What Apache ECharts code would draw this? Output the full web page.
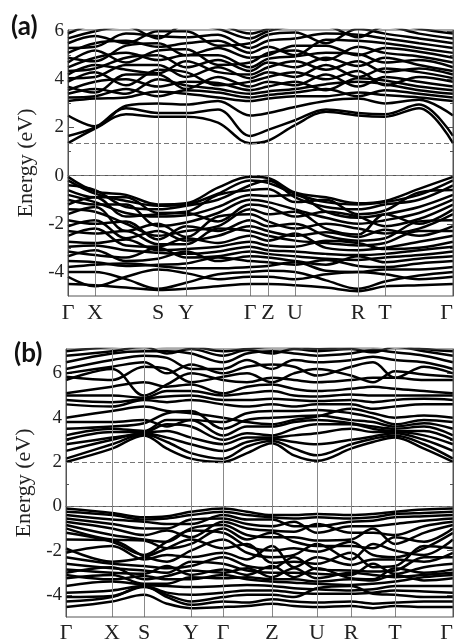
<!DOCTYPE html>
<html><head><meta charset="utf-8">
<script src="https://cdn.jsdelivr.net/npm/echarts@6/dist/echarts.min.js"></script>
<style>html,body{margin:0;padding:0;background:#fff}#c{width:456px;height:644px}</style>
</head><body><div id="c"></div>
<script>
// ---------- Panel (a) ----------
// k-path nodes: Γ X mXS S Y mYΓ Γ Z U mUR R T mTΓ Γ
const kA = [0, 27, 58, 90, 118, 150, 182, 200, 227, 258, 290, 317, 351, 385];
const symTicksA = [0, 27, 90, 118, 182, 200, 227, 290, 317, 385];
const symLabelsA = ['Γ','X','S','Y','Γ','Z','U','R','T','Γ'];
const refLinesA = [0, 1.35];
const yRangeA = [-5, 6.05];
const condA = [
  [1.35, 1.95, 2.55, 2.45, 2.45, 2.2, 1.35, 1.45, 2.1, 2.65, 2.5, 2.45, 2.8, 1.35],
  [1.65, 2.0, 2.8, 2.6, 2.6, 2.75, 1.65, 1.9, 2.3, 2.75, 2.6, 2.55, 2.95, 1.65],
  [2.5, 2.05, 2.9, 3.0, 2.95, 3.1, 2.5, 2.6, 2.85, 3.1, 3.2, 3.0, 3.15, 2.5],
  [3.1, 3.2, 3.25, 3.5, 3.4, 3.25, 3.1, 3.2, 3.3, 3.3, 3.45, 3.35, 3.25, 3.1],
  [3.25, 3.3, 3.6, 3.3, 3.55, 3.45, 3.25, 3.35, 3.45, 3.6, 3.3, 3.55, 3.4, 3.25],
  [3.4, 3.6, 3.4, 4.0, 3.75, 3.6, 3.4, 3.5, 3.6, 3.8, 3.9, 3.8, 3.55, 3.4],
  [3.55, 3.9, 4.0, 3.7, 3.9, 3.85, 3.55, 3.7, 3.9, 3.55, 4.05, 3.95, 3.7, 3.55],
  [3.7, 3.45, 4.2, 4.2, 3.6, 4.1, 3.7, 3.9, 3.75, 4.2, 3.7, 4.1, 3.9, 3.7],
  [3.9, 4.3, 3.75, 4.4, 4.3, 3.75, 3.9, 4.1, 4.3, 4.0, 4.35, 3.75, 4.1, 3.9],
  [4.05, 4.1, 4.6, 4.6, 4.1, 4.5, 4.05, 4.3, 4.1, 4.6, 4.1, 4.45, 4.3, 4.05],
  [4.2, 4.6, 4.4, 4.25, 4.75, 4.3, 4.2, 4.5, 4.75, 4.4, 4.75, 4.3, 4.45, 4.2],
  [4.35, 4.45, 4.9, 5.0, 4.5, 4.8, 4.35, 4.7, 4.5, 4.9, 4.55, 4.9, 4.6, 4.35],
  [4.5, 4.9, 5.1, 4.8, 5.0, 5.0, 4.5, 4.85, 4.95, 5.1, 5.05, 4.7, 4.8, 4.5],
  [4.7, 5.2, 4.7, 5.2, 5.25, 4.6, 4.7, 5.1, 5.2, 4.8, 5.35, 5.1, 4.95, 4.7],
  [4.9, 4.75, 5.4, 5.5, 5.0, 5.3, 4.9, 5.0, 5.4, 5.4, 5.0, 5.3, 5.15, 4.9],
  [5.1, 5.5, 5.6, 5.35, 5.5, 5.6, 5.1, 5.35, 5.0, 5.65, 5.6, 5.5, 5.3, 5.1],
  [5.3, 5.35, 5.9, 5.8, 5.75, 5.85, 5.3, 5.6, 5.7, 5.9, 5.85, 5.7, 5.5, 5.3],
  [5.5, 5.8, 5.5, 6.0, 6.0, 5.4, 5.5, 5.85, 5.95, 5.5, 6.1, 5.9, 5.7, 5.5],
  [5.7, 6.0, 6.2, 5.7, 6.3, 6.1, 5.7, 6.0, 6.2, 6.2, 5.75, 6.2, 5.9, 5.7],
  [5.9, 6.3, 6.4, 6.3, 6.4, 6.3, 5.9, 6.1, 6.4, 6.4, 6.3, 6.4, 6.1, 5.9]
];
const valA = [
  [-0.05, -0.65, -0.8, -1.2, -1.15, -0.5, -0.05, -0.1, -0.7, -0.9, -1.15, -1.05, -0.55, -0.05],
  [-0.2, -0.75, -1.05, -1.25, -1.2, -0.75, -0.2, -0.3, -0.75, -1.1, -1.2, -1.1, -0.8, -0.2],
  [-0.4, -0.6, -1.3, -1.4, -1.25, -1.0, -0.4, -0.2, -0.9, -1.3, -1.4, -1.2, -1.0, -0.4],
  [-0.6, -0.9, -0.9, -1.55, -1.5, -0.8, -0.6, -0.55, -1.1, -1.0, -1.6, -1.45, -0.7, -0.6],
  [-0.8, -1.1, -1.55, -1.7, -1.65, -1.3, -0.8, -0.85, -0.8, -1.5, -1.75, -1.6, -1.3, -0.8],
  [-1.0, -1.2, -1.2, -2.1, -1.95, -1.55, -1.0, -1.1, -1.4, -1.75, -2.0, -1.85, -1.55, -1.0],
  [-1.2, -0.9, -1.7, -1.6, -1.55, -1.9, -1.2, -1.3, -1.7, -1.5, -1.7, -2.1, -1.8, -1.2],
  [-1.4, -1.5, -2.0, -2.5, -2.3, -2.1, -1.4, -1.6, -1.5, -2.2, -2.45, -1.6, -2.0, -1.4],
  [-1.6, -1.3, -2.3, -2.0, -2.55, -1.7, -1.6, -1.9, -2.2, -2.0, -2.2, -2.4, -2.2, -1.6],
  [-1.85, -2.0, -1.9, -2.65, -2.1, -2.3, -1.85, -2.1, -2.0, -2.5, -2.7, -2.6, -1.9, -1.85],
  [-2.1, -1.85, -2.6, -2.3, -2.7, -2.5, -2.1, -2.3, -2.5, -2.35, -2.55, -2.25, -2.5, -2.1],
  [-2.3, -2.4, -2.3, -2.85, -2.85, -2.2, -2.3, -2.5, -2.7, -2.8, -2.9, -2.8, -2.3, -2.3],
  [-2.5, -2.2, -2.9, -2.95, -2.6, -2.8, -2.5, -2.7, -2.4, -3.0, -3.1, -3.0, -2.75, -2.5],
  [-2.75, -2.8, -2.65, -3.1, -3.05, -2.95, -2.75, -2.9, -2.95, -2.7, -2.8, -3.05, -3.0, -2.75],
  [-2.95, -2.9, -3.1, -3.2, -3.25, -3.15, -2.95, -3.1, -3.15, -3.25, -3.3, -3.25, -3.1, -2.95],
  [-3.15, -3.3, -3.4, -3.0, -3.4, -3.35, -3.15, -3.25, -3.35, -3.45, -3.5, -3.4, -3.3, -3.15],
  [-3.35, -3.1, -3.55, -3.45, -3.15, -3.55, -3.35, -3.4, -3.55, -3.7, -3.35, -3.6, -3.45, -3.35],
  [-3.55, -3.6, -3.75, -3.7, -3.65, -3.4, -3.55, -3.6, -3.7, -3.5, -3.75, -3.8, -3.65, -3.55],
  [-3.8, -3.7, -3.65, -3.75, -3.85, -3.85, -3.8, -3.75, -3.6, -3.95, -4.0, -3.9, -3.9, -3.8],
  [-4.0, -4.0, -4.3, -4.7, -4.45, -4.1, -4.0, -3.95, -4.0, -4.35, -4.7, -4.4, -4.15, -4.0],
  [-4.2, -4.6, -4.2, -3.9, -4.05, -4.3, -4.2, -4.2, -4.3, -4.1, -4.0, -4.1, -4.3, -4.2],
  [-4.5, -4.55, -4.65, -4.75, -4.7, -4.6, -4.5, -4.5, -4.55, -4.65, -4.8, -4.6, -4.55, -4.5]
];

// ---------- Panel (b) ----------
// k-path nodes: Γ X S mSY Y Γ mΓZ Z mZU U R mRT T mTΓ Γ
const kB = [0, 46, 78, 101, 125, 157, 181, 206, 228, 251, 285, 307, 329, 358, 387];
const symTicksB = [0, 46, 78, 125, 157, 206, 251, 285, 329, 387];
const symLabelsB = ['Γ','X','S','Y','Γ','Z','U','R','T','Γ'];
const refLinesB = [0, 2.0];
const yRangeB = [-5, 7.1];
const condB = [
  [2.0, 2.6, 3.2, 2.6, 2.15, 2.0, 2.4, 2.85, 2.3, 2.05, 2.6, 2.9, 3.1, 2.6, 2.0],
  [2.15, 2.8, 3.25, 2.9, 2.4, 2.15, 2.7, 2.95, 2.6, 2.3, 2.8, 3.05, 3.2, 2.8, 2.15],
  [2.5, 3.0, 3.3, 3.1, 2.8, 2.5, 2.9, 3.05, 2.9, 2.8, 3.0, 3.15, 3.3, 3.0, 2.5],
  [2.8, 3.1, 3.3, 3.4, 3.1, 2.8, 3.1, 3.1, 3.2, 3.3, 3.5, 3.35, 3.35, 3.2, 2.8],
  [3.0, 3.35, 3.35, 3.7, 3.6, 3.0, 3.3, 3.2, 3.5, 3.7, 3.7, 3.5, 3.4, 3.4, 3.0],
  [3.2, 3.5, 3.4, 3.9, 3.9, 3.2, 3.6, 3.6, 3.8, 3.9, 3.75, 3.6, 3.5, 3.6, 3.2],
  [3.5, 3.6, 3.75, 4.2, 4.3, 3.5, 3.9, 4.0, 4.05, 4.1, 3.9, 3.8, 3.6, 3.75, 3.5],
  [3.8, 3.8, 3.9, 3.6, 3.9, 3.8, 4.2, 4.3, 4.3, 4.35, 4.2, 4.0, 3.7, 3.9, 3.8],
  [4.0, 4.3, 4.5, 4.3, 4.2, 4.0, 3.8, 3.7, 3.9, 4.05, 4.4, 4.2, 4.0, 4.1, 4.0],
  [4.6, 4.5, 4.8, 4.7, 4.8, 4.6, 4.5, 4.6, 4.5, 4.6, 4.6, 4.4, 4.5, 4.6, 4.6],
  [4.8, 4.7, 4.85, 4.95, 5.0, 4.8, 4.8, 4.85, 4.8, 4.75, 4.8, 4.7, 4.8, 4.85, 4.8],
  [5.0, 5.0, 4.9, 5.2, 5.2, 5.0, 5.1, 5.2, 5.0, 4.95, 5.05, 5.0, 5.0, 5.0, 5.0],
  [5.1, 5.4, 5.6, 5.4, 5.5, 5.1, 5.4, 5.5, 5.3, 5.2, 5.3, 5.4, 5.3, 5.2, 5.1],
  [5.7, 6.2, 5.0, 5.5, 6.0, 5.7, 5.6, 5.8, 5.7, 5.6, 5.7, 5.8, 5.8, 5.7, 5.7],
  [5.85, 5.7, 6.3, 6.2, 5.6, 5.85, 6.0, 5.6, 6.0, 6.2, 5.9, 5.6, 6.1, 5.95, 5.85],
  [6.0, 6.3, 6.5, 6.0, 6.4, 6.0, 6.3, 6.4, 6.3, 5.9, 6.3, 6.5, 5.8, 6.3, 6.0],
  [6.2, 6.6, 6.8, 6.7, 6.2, 6.2, 6.6, 6.2, 6.6, 6.5, 6.6, 6.75, 6.6, 6.5, 6.2],
  [6.5, 6.9, 7.0, 7.0, 6.9, 6.5, 6.9, 7.0, 6.9, 6.8, 6.9, 7.05, 6.95, 6.8, 6.5],
  [6.8, 7.0, 7.2, 6.9, 7.1, 6.8, 7.05, 6.9, 7.1, 7.0, 7.1, 6.95, 7.2, 7.0, 6.8],
  [7.0, 7.2, 7.3, 7.2, 7.2, 7.0, 7.1, 7.2, 7.2, 7.1, 7.2, 7.2, 7.3, 7.1, 7.0]
];
const valB = [
  [-0.1, -0.3, -0.5, -0.45, -0.25, -0.1, -0.25, -0.4, -0.4, -0.35, -0.4, -0.35, -0.25, -0.15, -0.1],
  [-0.25, -0.4, -0.6, -0.55, -0.4, -0.25, -0.4, -0.5, -0.55, -0.5, -0.55, -0.5, -0.35, -0.3, -0.25],
  [-0.4, -0.6, -0.7, -0.8, -0.8, -0.4, -0.6, -0.6, -0.9, -0.9, -0.7, -0.65, -0.5, -0.45, -0.4],
  [-0.55, -0.8, -1.0, -1.0, -0.6, -0.55, -0.8, -0.9, -0.7, -1.2, -0.9, -0.9, -0.8, -0.65, -0.55],
  [-0.7, -1.0, -1.3, -1.1, -1.4, -0.7, -1.0, -1.1, -1.15, -0.8, -1.2, -1.2, -1.3, -0.9, -0.7],
  [-0.85, -1.3, -1.5, -1.6, -1.0, -0.85, -1.3, -1.4, -1.4, -1.55, -1.5, -1.0, -1.7, -1.2, -0.85],
  [-1.0, -1.5, -1.55, -1.9, -1.7, -1.0, -1.5, -1.2, -1.6, -1.8, -1.8, -1.9, -1.4, -1.6, -1.0],
  [-1.2, -1.6, -2.2, -1.6, -1.1, -1.2, -1.8, -2.0, -1.9, -2.05, -1.6, -2.2, -2.3, -1.9, -1.2],
  [-1.5, -1.55, -2.25, -2.5, -2.0, -1.5, -2.1, -2.3, -2.2, -1.7, -2.4, -1.7, -2.0, -2.2, -1.5],
  [-1.9, -2.5, -2.3, -1.9, -1.5, -1.9, -1.7, -2.55, -2.5, -2.6, -2.1, -2.75, -2.7, -1.8, -1.9],
  [-2.1, -1.8, -2.4, -2.2, -2.3, -2.1, -2.4, -1.8, -2.75, -2.3, -2.65, -2.4, -2.4, -2.5, -2.1],
  [-2.3, -2.6, -2.7, -2.8, -2.7, -2.3, -2.7, -2.8, -2.3, -2.85, -2.9, -2.95, -2.9, -2.3, -2.3],
  [-2.6, -2.8, -2.9, -3.0, -2.5, -2.6, -2.9, -3.0, -3.0, -3.05, -3.1, -2.6, -3.05, -2.75, -2.6],
  [-2.85, -3.0, -3.05, -2.7, -3.1, -2.85, -3.1, -2.7, -3.2, -2.8, -3.25, -3.3, -2.8, -3.0, -2.85],
  [-3.0, -2.75, -3.3, -3.15, -2.9, -3.0, -2.8, -3.2, -2.8, -3.25, -3.0, -3.1, -3.2, -3.1, -3.0],
  [-3.1, -3.3, -3.15, -3.3, -3.3, -3.1, -3.3, -3.4, -3.45, -3.5, -3.55, -3.5, -3.4, -3.2, -3.1],
  [-3.25, -3.1, -3.5, -3.5, -3.2, -3.25, -3.2, -3.3, -3.3, -3.4, -3.3, -3.35, -3.1, -3.35, -3.25],
  [-3.6, -3.4, -3.55, -3.6, -3.65, -3.6, -3.55, -3.6, -3.7, -3.75, -3.8, -3.75, -3.6, -3.6, -3.6],
  [-3.9, -3.8, -3.6, -3.9, -4.0, -3.9, -3.8, -3.8, -3.9, -3.95, -3.95, -3.9, -3.8, -3.85, -3.9],
  [-4.1, -4.05, -3.65, -4.0, -4.3, -4.1, -4.0, -4.0, -4.1, -3.7, -3.6, -3.95, -4.0, -4.1, -4.1],
  [-4.3, -4.1, -3.6, -4.1, -4.45, -4.3, -4.35, -4.2, -4.3, -4.35, -4.3, -4.4, -4.35, -4.3, -4.3],
  [-4.55, -4.3, -4.0, -4.4, -4.6, -4.55, -4.5, -4.4, -4.5, -4.55, -4.5, -4.6, -4.5, -4.55, -4.55]
];
const majorTicksA = [-4, -2, 0, 2, 4, 6];
const minorTicksA = [-3, -1, 1, 3, 5];
const majorTicksB = [-4, -2, 0, 2, 4, 6];
const minorTicksB = [-3, -1, 1, 3, 5, 7];
const panelTags = ['(a)', '(b)'];

const serif = 'Liberation Serif';
const chart = echarts.init(document.getElementById('c'), null, {renderer: 'canvas'});

const grids = [
  {left: 68, top: 30, width: 385, height: 266, show: true, borderColor: '#555', borderWidth: 1, z: 10},
  {left: 66, top: 349, width: 387, height: 268, show: true, borderColor: '#555', borderWidth: 1, z: 10}
];

function xAx(gi, ticks, labels, maxK) {
  return {
    type: 'value', gridIndex: gi, min: 0, max: maxK,
    axisLine: {show: true, lineStyle: {color: '#555', width: 1}},
    axisTick: {show: false},
    splitLine: {show: false},
    axisLabel: {
      customValues: ticks, margin: gi === 0 ? 6 : 5,
      fontFamily: serif, fontSize: 22, color: '#222',
      alignMaxLabel: 'right',
      formatter: function (v) { const i = ticks.indexOf(v); return i >= 0 ? labels[i] : ''; }
    }
  };
}
function yAxes(gi, range, major, minor) {
  const base = {type: 'value', gridIndex: gi, min: range[0], max: range[1], splitLine: {show: false}};
  return [
    Object.assign({}, base, {
      position: 'left',
      name: 'Energy (eV)', nameLocation: 'middle', nameGap: 31,
      nameTextStyle: {fontFamily: serif, fontSize: 22, color: '#222'},
      axisLine: {show: true, lineStyle: {color: '#555'}},
      axisTick: {show: true, inside: true, length: 6, customValues: major, lineStyle: {color: '#555'}},
      axisLabel: {customValues: major, margin: 4, fontFamily: serif, fontSize: 19, color: '#222'}
    }),
    Object.assign({}, base, {
      position: 'left', axisLine: {show: false},
      axisTick: {show: true, inside: true, length: 3, customValues: minor, lineStyle: {color: '#555'}},
      axisLabel: {show: false}
    }),
    Object.assign({}, base, {
      position: 'right', axisLine: {show: true, lineStyle: {color: '#555'}},
      axisTick: {show: true, inside: true, length: 6, customValues: major, lineStyle: {color: '#555'}},
      axisLabel: {show: false}
    }),
    Object.assign({}, base, {
      position: 'right', axisLine: {show: false},
      axisTick: {show: true, inside: true, length: 3, customValues: minor, lineStyle: {color: '#555'}},
      axisLabel: {show: false}
    })
  ];
}

const series = [];
function addPanel(gi, k, bands, ticks, refs) {
  const yi = gi * 4;
  series.push({
    type: 'line', xAxisIndex: gi, yAxisIndex: yi, data: [], silent: true, z: 1,
    markLine: {
      silent: true, symbol: ['none', 'none'], label: {show: false}, animation: false,
      data: ticks.slice(1, -1).map(v => ({xAxis: v, lineStyle: {color: '#888', width: 1, type: 'solid'}}))
        .concat(refs.map(v => ({yAxis: v, lineStyle: {color: '#777', width: 1, type: [5, 3]}})))
    }
  });
  bands.forEach(b => {
    series.push({
      type: 'line', xAxisIndex: gi, yAxisIndex: yi, z: 3,
      data: b.map((e, i) => [k[i], e]),
      smooth: 0.35, symbol: 'none', clip: true, silent: true, animation: false,
      lineStyle: {color: '#000', width: 2.5}
    });
  });
}
addPanel(0, kA, condA.concat(valA), symTicksA, refLinesA);
addPanel(1, kB, condB.concat(valB), symTicksB, refLinesB);

chart.setOption({
  animation: false,
  backgroundColor: '#fff',
  grid: grids,
  xAxis: [xAx(0, symTicksA, symLabelsA, kA[kA.length - 1]), xAx(1, symTicksB, symLabelsB, kB[kB.length - 1])],
  yAxis: yAxes(0, yRangeA, majorTicksA, minorTicksA).concat(yAxes(1, yRangeB, majorTicksB, minorTicksB)),
  graphic: [
    {type: 'text', left: 11, top: 14, style: {text: panelTags[0], font: 'bold 26px Lato', fill: '#111'}},
    {type: 'text', left: 14, top: 341, style: {text: panelTags[1], font: 'bold 26px Lato', fill: '#111'}}
  ],
  series: series
});
</script>
</body></html>
